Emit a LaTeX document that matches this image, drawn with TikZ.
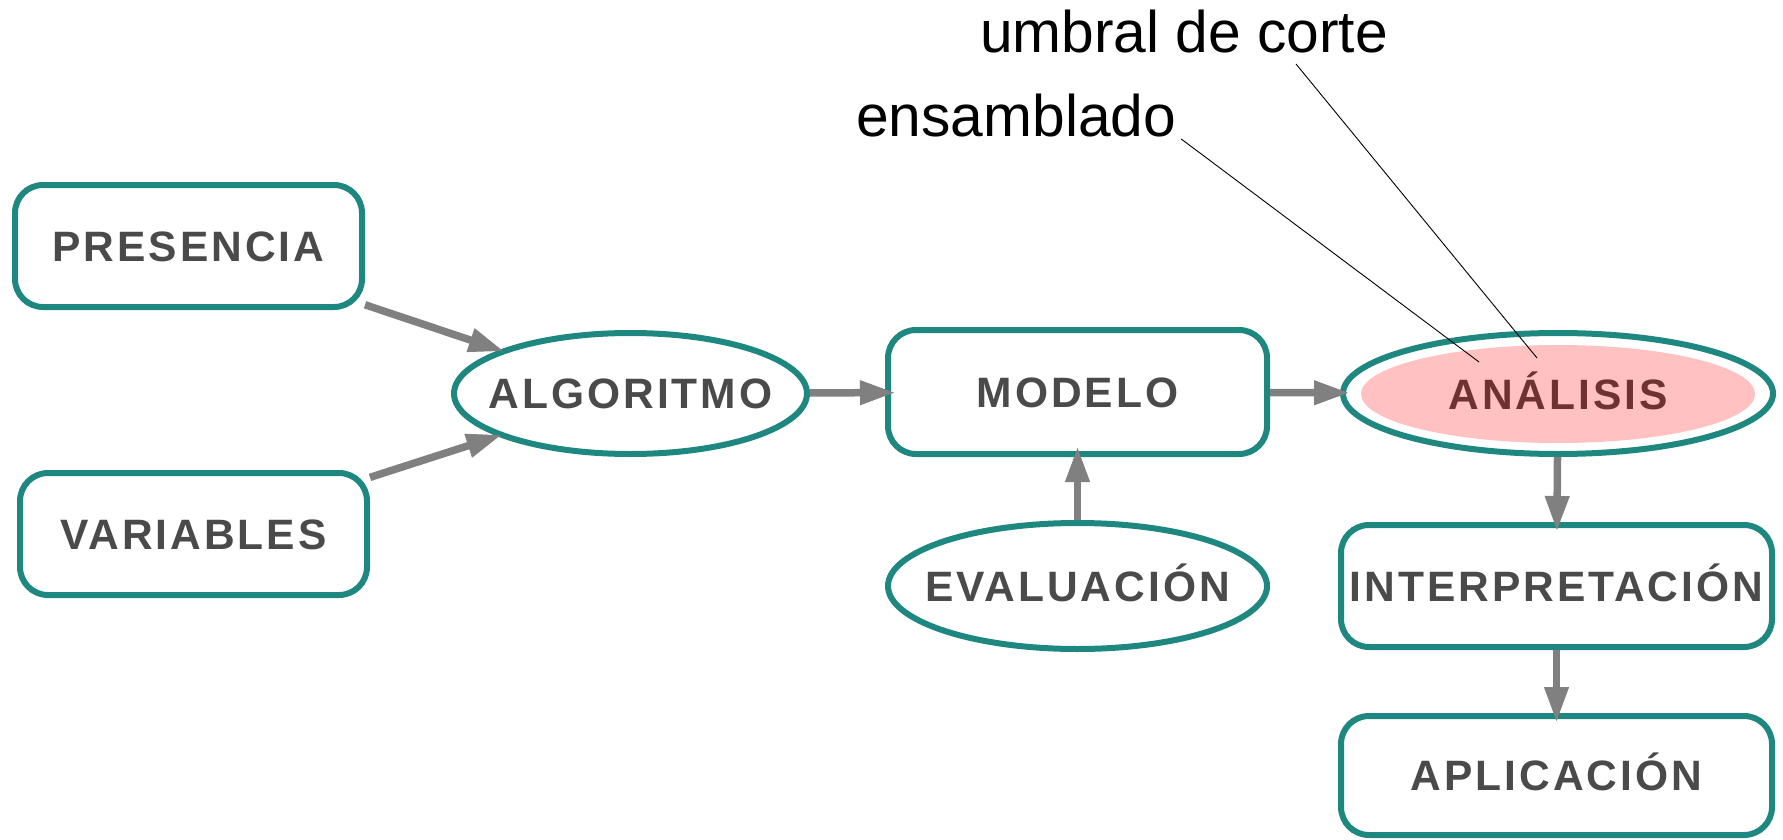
\documentclass[tikz,border=0pt]{standalone}
\usepackage{fontspec}
\setmainfont{Liberation Sans}
\newfontfamily\boxfont{Liberation Sans}[LetterSpace=7]
\usetikzlibrary{arrows.meta,shapes.geometric,calc}
\definecolor{teal1}{RGB}{30,136,128}
\definecolor{arrgray}{RGB}{128,128,128}
\definecolor{txtgray}{RGB}{74,74,74}
\definecolor{pinkfill}{RGB}{255,193,193}
\definecolor{maroon1}{RGB}{110,50,50}
\tikzset{
  txt/.style={inner sep=0pt, text height=30pt, text depth=0pt, text=txtgray,
    font=\boxfont\bfseries\fontsize{42.5}{50}\selectfont},
  base/.style={draw=teal1, line width=6pt, fill=white, inner sep=0pt, txt},
  rbox/.style={base, rectangle, rounded corners=28pt},
  ell/.style={draw=teal1, line width=6pt, fill=white, inner sep=0pt, ellipse},
  arr/.style={draw=arrgray, line width=7.5pt,
    -{Triangle[length=34pt,width=25pt,line width=1pt]}},
  lab/.style={inner sep=0pt, anchor=base west, font=\fontsize{58.7}{68}\selectfont},
  thin/.style={draw=black, line width=0.9pt}
}
\begin{document}
\begin{tikzpicture}[x=1pt,y=-1pt]
\useasboundingbox (0,0) rectangle (1783,840);
% nodes
\node[rbox, minimum width=347pt, minimum height=122pt] (pres) at (188.5,246) {PRESENCIA};
\node[rbox, minimum width=347pt, minimum height=122pt] (vars) at (193.5,534) {VARIABLES};
\node[ell, minimum width=353pt, minimum height=121pt,
  label={[txt]center:ALGORITMO}] (algo) at (630.5,393.5) {};
\node[rbox, minimum width=379pt, minimum height=124pt] (mod) at (1077.5,392) {MODELO};
\node[ell, minimum width=379pt, minimum height=126pt,
  label={[txt]center:EVALUACIÓN}] (eval) at (1077.5,586) {};
\node[ell, minimum width=430pt, minimum height=121pt] (anal) at (1558,393.5) {};
\node[ellipse, fill=pinkfill, inner sep=0pt, minimum width=394pt, minimum height=98pt,
  label={[txt, text=maroon1]center:ANÁLISIS}] (analin) at (1558,394) {};
\node[rbox, minimum width=431pt, minimum height=122pt] (interp) at (1556.5,586) {INTERPRETACIÓN};
\node[rbox, minimum width=431pt, minimum height=119pt] (aplic) at (1556.5,775.5) {APLICACIÓN};
% labels
\node[lab] (umb) at (980,53) {umbral de corte};
\node[lab] (ens) at (856,137) {ensamblado};
\coordinate (umbA) at (1296,64);
\coordinate (umbB) at (1537,358);
\coordinate (ensA) at ($(ens.base east)+(5,2)$);
\coordinate (ensB) at (1479,362);
\draw[thin] (umbA) -- (umbB);
\draw[thin] (ensA) -- (ensB);
% arrows
\draw[arr, shorten >=-3pt] (pres) -- (algo);
\draw[arr, shorten >=-3pt] (vars) -- (algo);
\draw[arr, shorten >=-9pt] (algo) -- (mod);
\draw[arr, shorten >=-8pt] (mod) -- (anal);
\draw[arr, shorten >=-9pt] (eval) -- (mod);
\draw[arr, shorten >=-8pt] (anal) -- (interp);
\draw[arr, shorten >=-8pt] (interp) -- (aplic);
\end{tikzpicture}
\end{document}
